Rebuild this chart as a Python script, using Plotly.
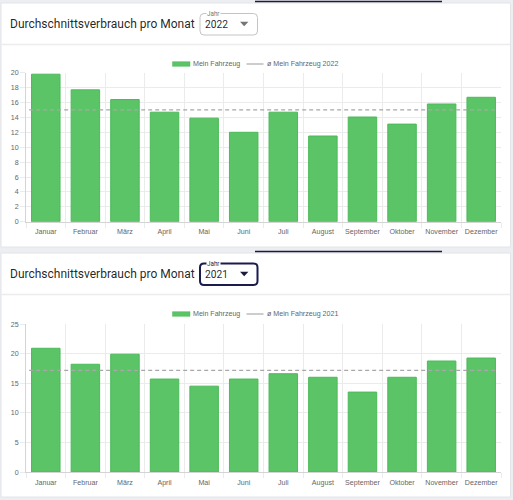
import plotly.graph_objects as go

# ---------------- data ----------------
months = ["Januar", "Februar", "März", "April", "Mai", "Juni", "Juli",
          "August", "September", "Oktober", "November", "Dezember"]
values_2022 = [19.8, 17.7, 16.4, 14.7, 13.9, 12.0, 14.7, 11.5, 14.05, 13.1, 15.8, 16.7]
avg_2022 = 15.0
values_2021 = [20.9, 18.2, 19.9, 15.7, 14.5, 15.7, 16.6, 16.0, 13.5, 16.0, 18.75, 19.25]
avg_2021 = 17.15
title_text = "Durchschnittsverbrauch pro Monat"
series_name = "Mein Fahrzeug"
avg_name = "ø Mein Fahrzeug"
years = ["2022", "2021"]
y_max = [20, 25]
y_step = [2, 5]

W, H = 513, 500
def X(px): return px / W
def Y(py): return 1 - py / H

BAR_FILL = "#5bc467"
BAR_LINE = "#4cba59"
GRID = "#ebebeb"
AXIS = "#d4d4d4"
TICKFONT = dict(family="Liberation Sans, Arial", size=7.1, color="#666666")

fig = go.Figure()
fig.add_trace(go.Bar(x=months, y=values_2022, xaxis="x", yaxis="y",
                     marker=dict(color=BAR_FILL, line=dict(color=BAR_LINE, width=1)),
                     width=0.72, showlegend=False, name=series_name))
fig.add_trace(go.Bar(x=months, y=values_2021, xaxis="x2", yaxis="y2",
                     marker=dict(color=BAR_FILL, line=dict(color=BAR_LINE, width=1)),
                     width=0.72, showlegend=False, name=series_name))

shapes = []
annotations = []
cards = [(3, 247), (253, 497)]
for i, (top, bot) in enumerate(cards):
    shapes.append(dict(type="rect", xref="paper", yref="paper", layer="below",
                       x0=X(1), x1=X(510.5), y0=Y(bot), y1=Y(top),
                       fillcolor="white", line=dict(color="#e2e4e8", width=1)))
    shapes.append(dict(type="line", xref="paper", yref="paper", layer="below",
                       x0=X(1.5), x1=X(510), y0=Y(top + 41.5), y1=Y(top + 41.5),
                       line=dict(color="#ececec", width=1.5)))
    shapes.append(dict(type="line", xref="paper", yref="paper", layer="above",
                       x0=X(255), x1=X(442), y0=Y(top - 1.5), y1=Y(top - 1.5),
                       line=dict(color="#1c1b3e", width=1.5)))
    annotations.append(dict(xref="paper", yref="paper", x=X(7.5), y=Y(top + 21),
                            xanchor="left", yanchor="middle", showarrow=False,
                            text=title_text,
                            font=dict(family="Roboto", size=12, color="rgba(0,0,0,0.87)")))
    focused = (i == 1)
    bx0, bx1 = 200, 257.5
    by0, by1 = top + 10.5, top + 32
    r = 4
    path = (f"M {X(bx0 + r)},{Y(by0)} L {X(bx1 - r)},{Y(by0)} "
            f"Q {X(bx1)},{Y(by0)} {X(bx1)},{Y(by0 + r)} "
            f"L {X(bx1)},{Y(by1 - r)} Q {X(bx1)},{Y(by1)} {X(bx1 - r)},{Y(by1)} "
            f"L {X(bx0 + r)},{Y(by1)} Q {X(bx0)},{Y(by1)} {X(bx0)},{Y(by1 - r)} "
            f"L {X(bx0)},{Y(by0 + r)} Q {X(bx0)},{Y(by0)} {X(bx0 + r)},{Y(by0)} Z")
    shapes.append(dict(type="path", xref="paper", yref="paper", layer="above",
                       path=path, fillcolor="rgba(0,0,0,0)",
                       line=dict(color="#1c1b4e" if focused else "#c4c4c4",
                                 width=2 if focused else 1)))
    tri_y = top + 21
    shapes.append(dict(type="path", xref="paper", yref="paper", layer="above",
                       path=(f"M {X(240)},{Y(tri_y - 2.2)} L {X(248.4)},{Y(tri_y - 2.2)} "
                             f"L {X(244.2)},{Y(tri_y + 2.2)} Z"),
                       fillcolor="#1c1b3e" if focused else "#757575", line=dict(width=0)))
    annotations.append(dict(xref="paper", yref="paper", x=X(205.5), y=Y(by0),
                            xanchor="left", yanchor="middle", showarrow=False,
                            text="Jahr", bgcolor="white", borderpad=0,
                            font=dict(family="Roboto", size=6.3,
                                      color="#1c1b4e" if focused else "#757575")))
    annotations.append(dict(xref="paper", yref="paper", x=X(204), y=Y(tri_y),
                            xanchor="left", yanchor="middle", showarrow=False,
                            text=years[i], borderpad=0,
                            font=dict(family="Roboto", size=10.2, color="rgba(0,0,0,0.87)")))
    ly = top + 61
    shapes.append(dict(type="rect", xref="paper", yref="paper", layer="above",
                       x0=X(172.5), x1=X(190), y0=Y(ly + 2.3), y1=Y(ly - 2.3),
                       fillcolor=BAR_FILL, line=dict(color=BAR_LINE, width=0.5)))
    annotations.append(dict(xref="paper", yref="paper", x=X(191.3), y=Y(ly),
                            xanchor="left", yanchor="middle", showarrow=False,
                            text=series_name, font=TICKFONT))
    shapes.append(dict(type="line", xref="paper", yref="paper", layer="above",
                       x0=X(246.5), x1=X(263.5), y0=Y(ly), y1=Y(ly),
                       line=dict(color="#bdbdbd", width=1.5)))
    annotations.append(dict(xref="paper", yref="paper", x=X(265.3), y=Y(ly),
                            xanchor="left", yanchor="middle", showarrow=False,
                            text=f"{avg_name} {years[i]}", font=TICKFONT))

for xr, yr, avg in [("x", "y", avg_2022), ("x2", "y2", avg_2021)]:
    shapes.append(dict(type="line", xref=xr, yref=yr, layer="above",
                       x0=-0.42, x1=len(months) - 1 + 0.42, y0=avg, y1=avg,
                       line=dict(color="#a8a8a8", width=1.2, dash="4px,3px")))

def xaxis_cfg(dom):
    return dict(domain=dom, type="category", categoryorder="array", categoryarray=months,
                tickson="boundaries", ticks="outside", ticklen=5, tickcolor=GRID,
                tickangle=0, ticklabelstandoff=3, showgrid=True, gridcolor=GRID, gridwidth=1,
                showline=True, linecolor=AXIS, linewidth=1,
                tickfont=TICKFONT, fixedrange=True, automargin=False)

def yaxis_cfg(dom, anchor, ymax, step):
    return dict(domain=dom, anchor=anchor, range=[0, ymax], dtick=step, tick0=0,
                ticks="outside", ticklen=5, tickcolor=GRID,
                showgrid=True, gridcolor=GRID, gridwidth=1, zeroline=False,
                showline=True, linecolor=AXIS, linewidth=1,
                tickfont=TICKFONT, fixedrange=True, automargin=False)

xd = [X(26), X(501)]
fig.update_layout(
    width=W, height=H, margin=dict(l=0, r=0, t=0, b=0, pad=0, autoexpand=False),
    paper_bgcolor="#eceef1", plot_bgcolor="rgba(0,0,0,0)",
    bargap=0.28, showlegend=False,
    xaxis=dict(xaxis_cfg(xd), anchor="y"),
    yaxis=yaxis_cfg([Y(221.7), Y(72.7)], "x", y_max[0], y_step[0]),
    xaxis2=dict(xaxis_cfg(xd), anchor="y2"),
    yaxis2=yaxis_cfg([Y(472), Y(324)], "x2", y_max[1], y_step[1]),
    shapes=shapes, annotations=annotations,
)

page_fix = ("document.body.style.margin='0';"
            "document.documentElement.style.overflow='hidden';"
            "document.body.style.overflow='hidden';")
fig.write_html("out.html", config=dict(responsive=False, displayModeBar=False),
               post_script=page_fix)
